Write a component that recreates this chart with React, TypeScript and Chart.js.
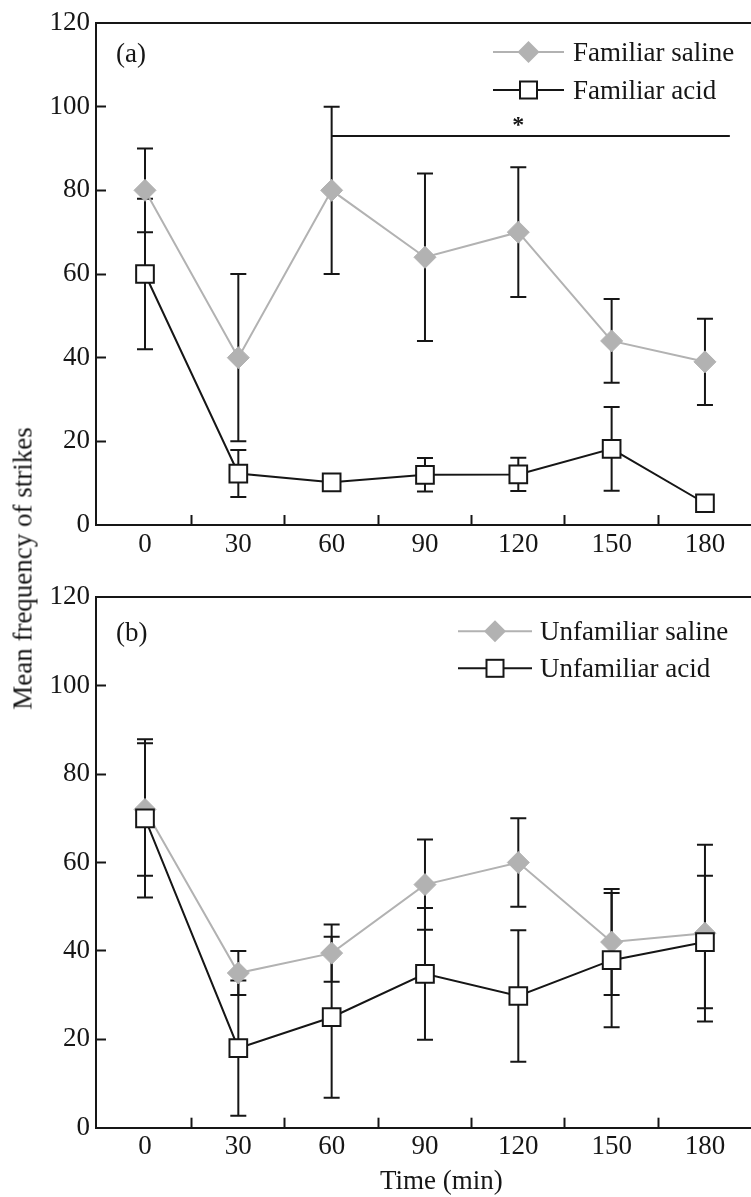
import React, { useEffect, useRef } from 'react';
import { Chart, registerables } from 'chart.js';

Chart.register(...registerables);

// ---------- data ----------
const TIMES = [0, 30, 60, 90, 120, 150, 180];
const X_TICKS = [0, 15, 30, 45, 60, 75, 90, 105, 120, 135, 150, 165, 180];
const X_LABEL_STEP = 30;
const Y_MIN = 0;
const Y_MAX = 120;
const Y_STEP = 20;

// Panel (a)
const FAM_SALINE = [80, 40, 80, 64, 70, 44, 39];
const FAM_SALINE_ERR = [10, 20, 20, 20, 15.5, 10, 10.3];
const FAM_ACID = [60, 12.3, 10.2, 12, 12.1, 18.2, 5.2];
const FAM_ACID_ERR = [18, 5.6, 0, 4, 4, 10, 0];

// Panel (b)
const UNF_SALINE = [72, 35, 39.5, 55, 60, 42, 44];
const UNF_SALINE_ERR = [15, 5, 6.5, 10.2, 10, 12, 20];
const UNF_ACID = [70, 18, 25, 34.8, 29.8, 37.9, 42];
const UNF_ACID_ERR = [17.9, 15.3, 18.2, 14.9, 14.9, 15.2, 15];

// significance bar (panel a)
const SIG_RANGE = [60, 188];
const SIG_LEVEL = 93;
const SIG_MARK_X = 120;
const SIG_MARK = '*';

const X_MIN = -15.75;
const X_MAX = 194.8;

// ---------- styles ----------
const FONT = '"Liberation Serif", "Times New Roman", serif';
const FONT_SIZE = 27;
const INK = '#161616';
const GRAY = '#b2b2b2';

const toPts = (vals: number[]) => TIMES.map((t, i) => ({ x: t, y: vals[i] }));

function drawDiamond(ctx: CanvasRenderingContext2D, x: number, y: number, r: number) {
  ctx.beginPath();
  ctx.moveTo(x, y - r);
  ctx.lineTo(x + r, y);
  ctx.lineTo(x, y + r);
  ctx.lineTo(x - r, y);
  ctx.closePath();
  ctx.fillStyle = GRAY;
  ctx.fill();
}

function drawSquare(ctx: CanvasRenderingContext2D, x: number, y: number, s: number) {
  ctx.fillStyle = '#fff';
  ctx.fillRect(x - s / 2, y - s / 2, s, s);
  ctx.strokeStyle = INK;
  ctx.lineWidth = 2;
  ctx.strokeRect(x - s / 2, y - s / 2, s, s);
}

function zeroPadding(scale: any) {
  scale.paddingLeft = 0;
  scale.paddingRight = 0;
  scale.paddingTop = 0;
  scale.paddingBottom = 0;
}

const errorBarPlugin = {
  id: 'errorBars',
  beforeDatasetsDraw(chart: any) {
    const { ctx, scales } = chart;
    const xs = scales.x;
    const ys = scales.y;
    ctx.save();
    ctx.strokeStyle = INK;
    ctx.lineWidth = 2;
    chart.data.datasets.forEach((ds: any) => {
      if (!ds.errors) return;
      ds.data.forEach((p: any, i: number) => {
        const e = ds.errors[i];
        if (!e) return;
        const px = xs.getPixelForValue(p.x);
        const top = ys.getPixelForValue(p.y + e);
        const bot = ys.getPixelForValue(p.y - e);
        ctx.beginPath();
        ctx.moveTo(px, top);
        ctx.lineTo(px, bot);
        ctx.moveTo(px - 8, top);
        ctx.lineTo(px + 8, top);
        ctx.moveTo(px - 8, bot);
        ctx.lineTo(px + 8, bot);
        ctx.stroke();
      });
    });
    ctx.restore();
  },
};

type PanelProps = {
  tag: string;
  salineLabel: string;
  acidLabel: string;
  saline: number[];
  salineErr: number[];
  acid: number[];
  acidErr: number[];
  top: number;
  height: number;
  padTop: number;
  xAxisHeight: number;
  tagDy: number;
  legend: { lineFrom: number; lineTo: number; textX: number; row1: number; row2: number };
  sig: boolean;
};

function Panel(props: PanelProps) {
  const ref = useRef<HTMLCanvasElement>(null);
  useEffect(() => {
    const canvas = ref.current;
    if (!canvas) return;

    const annotPlugin = {
      id: 'annot',
      afterDatasetsDraw(chart: any) {
        const { ctx, chartArea, scales } = chart;
        ctx.save();
        ctx.fillStyle = INK;
        ctx.font = `${FONT_SIZE}px ${FONT}`;
        ctx.textAlign = 'left';
        ctx.textBaseline = 'alphabetic';
        ctx.fillText(props.tag, chartArea.left + 20, chartArea.top + props.tagDy);

        const L = props.legend;
        const rows = [
          { y: chartArea.top + L.row1, label: props.salineLabel, kind: 'saline' },
          { y: chartArea.top + L.row2, label: props.acidLabel, kind: 'acid' },
        ];
        rows.forEach((r) => {
          const x0 = chartArea.right - L.lineFrom;
          const x1 = chartArea.right - L.lineTo;
          ctx.beginPath();
          ctx.moveTo(x0, r.y);
          ctx.lineTo(x1, r.y);
          ctx.strokeStyle = r.kind === 'saline' ? GRAY : INK;
          ctx.lineWidth = 2;
          ctx.stroke();
          const cx = (x0 + x1) / 2;
          if (r.kind === 'saline') drawDiamond(ctx, cx, r.y, 11);
          else drawSquare(ctx, cx, r.y, 17);
          ctx.fillStyle = INK;
          ctx.font = `${FONT_SIZE}px ${FONT}`;
          ctx.fillText(r.label, chartArea.right - L.textX, r.y + 8.5);
        });

        if (props.sig) {
          const sx = scales.x.getPixelForValue(SIG_MARK_X);
          const sy = scales.y.getPixelForValue(SIG_LEVEL);
          ctx.font = `bold 24px ${FONT}`;
          ctx.textAlign = 'center';
          ctx.fillStyle = INK;
          ctx.fillText(SIG_MARK, sx, sy - 4);
        }
        ctx.restore();
      },
    };

    const datasets: any[] = [
      {
        label: props.acidLabel,
        data: toPts(props.acid),
        errors: props.acidErr,
        borderColor: INK,
        borderWidth: 2,
        backgroundColor: '#fff',
        pointStyle: 'rect',
        pointRadius: 12.5,
        pointBorderWidth: 2,
        pointBorderColor: INK,
        pointBackgroundColor: '#fff',
        tension: 0,
      },
      {
        label: props.salineLabel,
        data: toPts(props.saline),
        errors: props.salineErr,
        borderColor: GRAY,
        borderWidth: 2,
        backgroundColor: GRAY,
        pointStyle: 'rectRot',
        pointRadius: 11,
        pointBorderWidth: 1,
        pointBorderColor: GRAY,
        pointBackgroundColor: GRAY,
        tension: 0,
      },
    ];
    if (props.sig) {
      datasets.push({
        label: 'sig',
        data: [
          { x: SIG_RANGE[0], y: SIG_LEVEL },
          { x: SIG_RANGE[1], y: SIG_LEVEL },
        ],
        borderColor: INK,
        borderWidth: 2,
        pointRadius: 0,
        tension: 0,
      });
    }

    const tickFont = { family: FONT, size: FONT_SIZE };
    const chart = new Chart(canvas, {
      type: 'line',
      data: { datasets },
      options: {
        animation: false,
        responsive: false,
        maintainAspectRatio: false,
        events: [],
        layout: { autoPadding: false, padding: { top: props.padTop, left: 0, right: 0, bottom: 0 } },
        plugins: { legend: { display: false }, tooltip: { enabled: false } },
        scales: {
          x: {
            type: 'linear',
            position: 'bottom',
            min: X_MIN,
            max: X_MAX,
            afterBuildTicks: (scale: any) => {
              scale.ticks = X_TICKS.map((v) => ({ value: v }));
            },
            afterFit: (scale: any) => {
              scale.height = props.xAxisHeight;
              zeroPadding(scale);
            },
            ticks: {
              autoSkip: false,
              maxRotation: 0,
              padding: 13.5,
              color: INK,
              font: tickFont,
              callback: (v: any) => (Number(v) % X_LABEL_STEP === 0 ? String(v) : ''),
            },
            grid: {
              display: true,
              drawOnChartArea: false,
              drawTicks: true,
              tickLength: -10,
              tickWidth: 2,
              tickColor: (c: any) =>
                c.tick && c.tick.value % X_LABEL_STEP === 0 ? 'rgba(0,0,0,0)' : INK,
            },
            border: { display: true, color: INK, width: 2 },
          },
          xTop: {
            type: 'linear',
            position: 'top',
            min: X_MIN,
            max: X_MAX,
            afterFit: (scale: any) => {
              scale.height = 0;
              zeroPadding(scale);
            },
            ticks: { display: false },
            grid: { display: false, drawTicks: false },
            border: { display: true, color: INK, width: 2 },
          },
          y: {
            type: 'linear',
            position: 'left',
            min: Y_MIN,
            max: Y_MAX,
            afterFit: (scale: any) => {
              scale.width = 96;
              zeroPadding(scale);
            },
            ticks: {
              stepSize: Y_STEP,
              padding: 16,
              color: INK,
              font: tickFont,
            },
            grid: {
              display: true,
              drawOnChartArea: false,
              drawTicks: true,
              tickLength: -10,
              tickWidth: 2,
              tickColor: (c: any) =>
                c.tick && (c.tick.value === Y_MIN || c.tick.value === Y_MAX) ? 'rgba(0,0,0,0)' : INK,
            },
            border: { display: true, color: INK, width: 2 },
          },
        },
      } as any,
      plugins: [errorBarPlugin, annotPlugin],
    });
    return () => chart.destroy();
  }, []);

  return (
    <canvas
      ref={ref}
      width={751}
      height={props.height}
      style={{ position: 'absolute', left: 0, top: props.top, width: 751, height: props.height, display: 'block' }}
    />
  );
}

export default function App() {
  return (
    <div style={{ position: 'absolute', left: 0, top: 0, width: 751, height: 1197, background: '#fff', overflow: 'hidden' }}>
      <Panel
        tag="(a)"
        salineLabel="Familiar saline"
        acidLabel="Familiar acid"
        saline={FAM_SALINE}
        salineErr={FAM_SALINE_ERR}
        acid={FAM_ACID}
        acidErr={FAM_ACID_ERR}
        top={0}
        height={575}
        padTop={23}
        xAxisHeight={50}
        tagDy={39}
        legend={{ lineFrom: 258, lineTo: 187, textX: 178, row1: 29, row2: 67 }}
        sig={true}
      />
      <Panel
        tag="(b)"
        salineLabel="Unfamiliar saline"
        acidLabel="Unfamiliar acid"
        saline={UNF_SALINE}
        salineErr={UNF_SALINE_ERR}
        acid={UNF_ACID}
        acidErr={UNF_ACID_ERR}
        top={575}
        height={622}
        padTop={22.3}
        xAxisHeight={69.3}
        tagDy={44}
        legend={{ lineFrom: 293, lineTo: 219, textX: 211, row1: 34, row2: 71 }}
        sig={false}
      />
      <div
        style={{
          position: 'absolute',
          left: 23 - 160,
          top: 568 - 13.5,
          width: 320,
          height: 27,
          lineHeight: '27px',
          fontSize: 27,
          fontFamily: FONT,
          color: INK,
          textAlign: 'center',
          whiteSpace: 'nowrap',
          transform: 'rotate(-90deg)',
        }}
      >
        Mean frequency of strikes
      </div>
      <div
        style={{
          position: 'absolute',
          left: 380,
          top: 1167,
          lineHeight: '27px',
          height: 27,
          fontSize: 27,
          fontFamily: FONT,
          color: INK,
          whiteSpace: 'nowrap',
        }}
      >
        Time (min)
      </div>
    </div>
  );
}
